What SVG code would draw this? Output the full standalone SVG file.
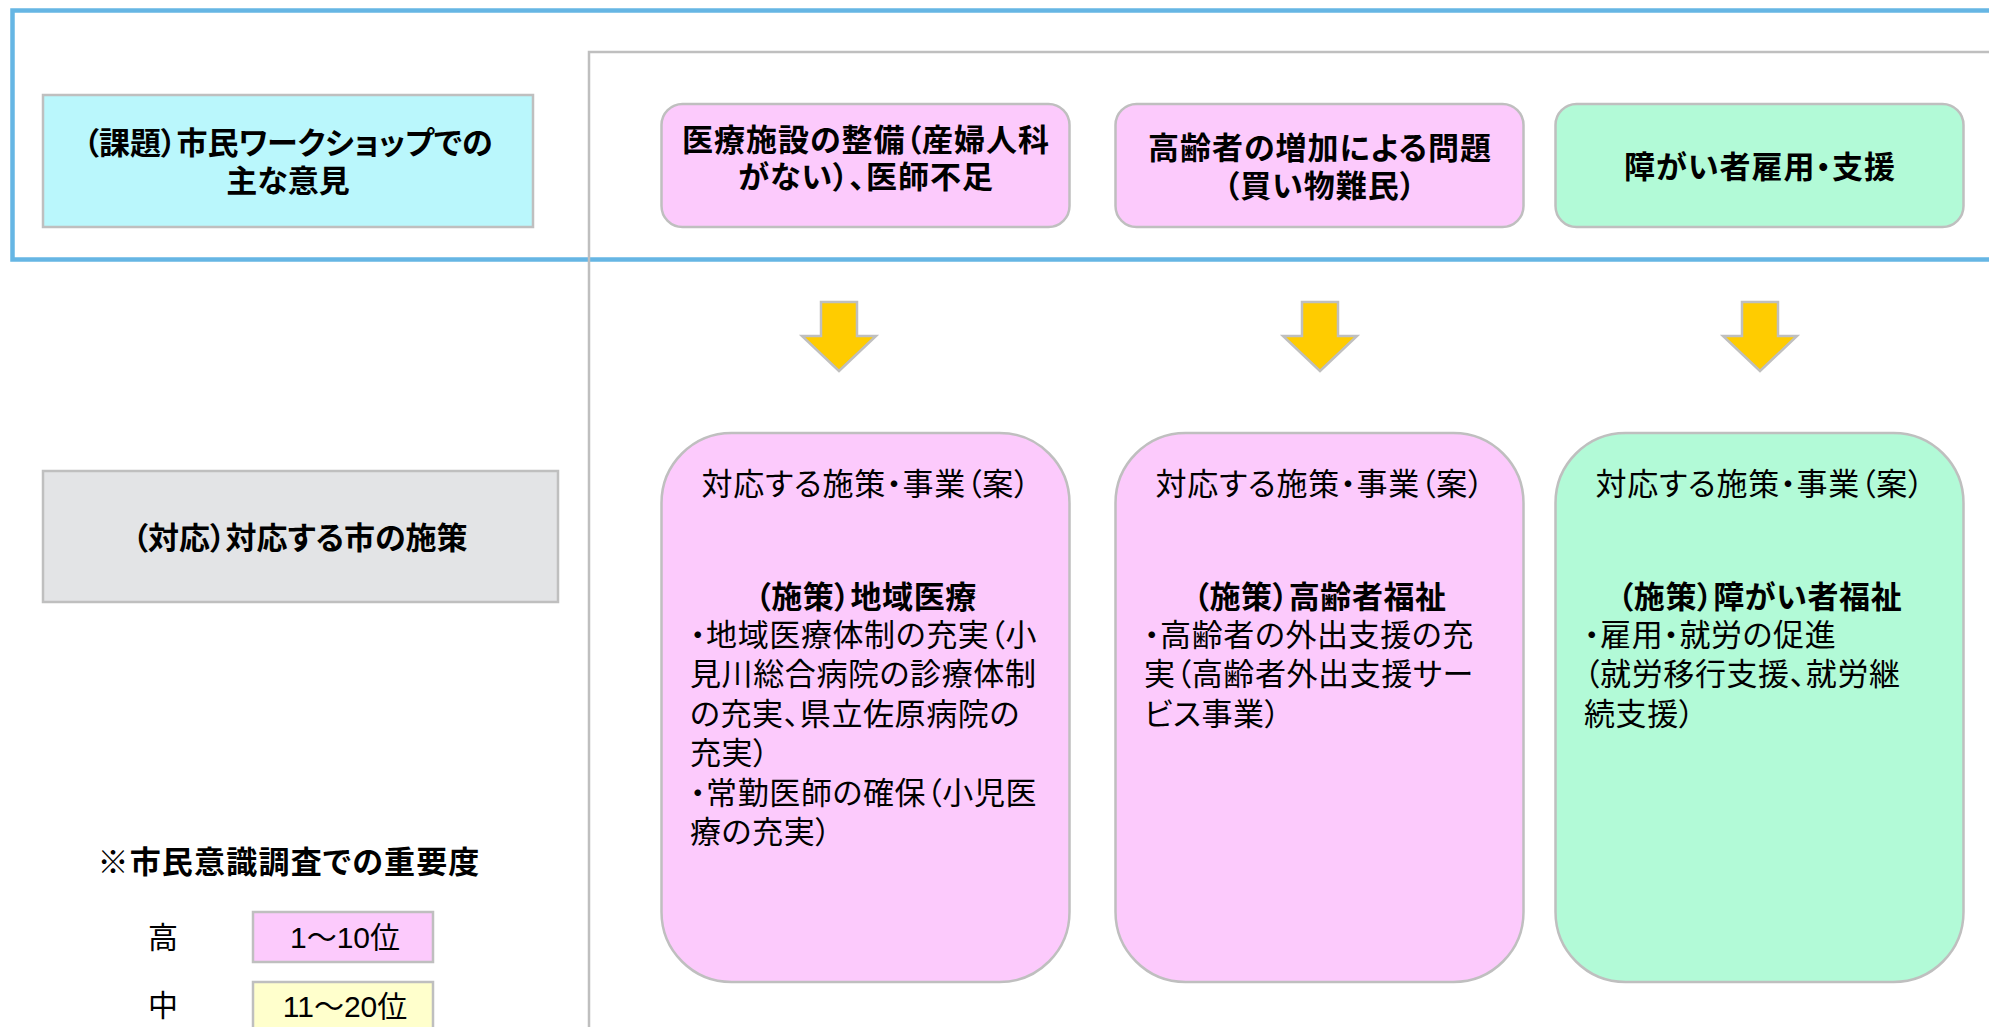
<svg xmlns="http://www.w3.org/2000/svg" width="1989" height="1027" viewBox="0 0 1989 1027">
<style>
text{font-family:"Liberation Sans","Noto Sans CJK JP",sans-serif;font-feature-settings:"palt" 1;fill:#000;dominant-baseline:central}
.b{font-weight:bold;font-size:31px}
.n{font-size:31px}
.body{font-size:31px;letter-spacing:0.6px}
.hd{letter-spacing:0.8px}
.tb{letter-spacing:1px}
.sb{letter-spacing:0.6px}
.c{text-anchor:middle}
.box{stroke:#BFBFBF;stroke-width:2.5}
.pink{fill:#FCCAFC}
.green{fill:#B2FAD7}
.arrow{fill:#FFCC00;stroke:#BFBFBF;stroke-width:2.5;stroke-linejoin:miter}
</style>
<rect x="0" y="0" width="1989" height="1027" fill="#FFFFFF"/>
<rect x="12.5" y="10.5" width="2000" height="249" fill="none" stroke="#66B6E4" stroke-width="4.5"/>
<g id="divider">
<path d="M589,1030 V52 H1995" fill="none" stroke="#BFBFBF" stroke-width="2.5"/>
</g>
<g id="issue-header">
<rect class="box" x="43" y="95" width="490" height="132" fill="#BAF7FC"/>
<text class="b c" x="288" y="143">（課題）市民ワークショップでの</text>
<text class="b c" x="288" y="181">主な意見</text>
</g>
<g id="response-header">
<rect class="box" x="43" y="471" width="515" height="131" fill="#E3E4E6"/>
<text class="b c" x="300" y="538">（対応）対応する市の施策</text>
</g>
<g id="issue-medical">
<rect class="box pink" x="661.5" y="104" width="408" height="123" rx="21" ry="21"/>
<text class="b c tb" x="866" y="140">医療施設の整備（産婦人科</text>
<text class="b c tb" x="866" y="177">がない）、医師不足</text>
</g>
<g id="issue-elderly">
<rect class="box pink" x="1115.5" y="104" width="408" height="123" rx="21" ry="21"/>
<text class="b c tb" x="1320" y="148">高齢者の増加による問題</text>
<text class="b c tb" x="1320" y="186">（買い物難民）</text>
</g>
<g id="issue-disability">
<rect class="box green" x="1555.5" y="104" width="408" height="123" rx="21" ry="21"/>
<text class="b c tb" x="1760" y="167">障がい者雇用・支援</text>
</g>
<g id="connectors">
<path class="arrow" d="M821,302 H857 V336 H876 L839,371 L802,336 H821 Z"/>
<path class="arrow" d="M1302,302 H1338 V336 H1357 L1320,371 L1283,336 H1302 Z"/>
<path class="arrow" d="M1742,302 H1778 V336 H1797 L1760,371 L1723,336 H1742 Z"/>
</g>
<g id="policy-medical">
<rect class="box pink" x="661.5" y="433" width="408" height="549" rx="70" ry="70"/>
<text class="n c hd" x="866" y="484">対応する施策・事業（案）</text>
<text class="b c sb" x="866" y="597">（施策）地域医療</text>
<text class="body" x="690" y="635">・地域医療体制の充実（小</text>
<text class="body" x="690" y="674.5">見川総合病院の診療体制</text>
<text class="body" x="690" y="714">の充実、県立佐原病院の</text>
<text class="body" x="690" y="753.5">充実）</text>
<text class="body" x="690" y="793">・常勤医師の確保（小児医</text>
<text class="body" x="690" y="832.5">療の充実）</text>
</g>
<g id="policy-elderly">
<rect class="box pink" x="1115.5" y="433" width="408" height="549" rx="70" ry="70"/>
<text class="n c hd" x="1320" y="484">対応する施策・事業（案）</text>
<text class="b c sb" x="1320" y="597">（施策）高齢者福祉</text>
<text class="body" x="1144" y="635">・高齢者の外出支援の充</text>
<text class="body" x="1144" y="674.5">実（高齢者外出支援サー</text>
<text class="body" x="1144" y="714">ビス事業）</text>
</g>
<g id="policy-disability">
<rect class="box green" x="1555.5" y="433" width="408" height="549" rx="70" ry="70"/>
<text class="n c hd" x="1760" y="484">対応する施策・事業（案）</text>
<text class="b c sb" x="1760" y="597">（施策）障がい者福祉</text>
<text class="body" x="1584" y="635">・雇用・就労の促進</text>
<text class="body" x="1584" y="674.5">（就労移行支援、就労継</text>
<text class="body" x="1584" y="714">続支援）</text>
</g>
<g id="legend">
<text class="b c" x="289" y="862" style="letter-spacing:1.2px">※市民意識調査での重要度</text>
<text class="n c" x="163" y="937" style="font-size:30px">高</text>
<rect class="box pink" x="253" y="912" width="180" height="50"/>
<text class="n c" x="345" y="937" style="font-size:30px">1～10位</text>
<text class="n c" x="163" y="1005" style="font-size:30px">中</text>
<rect class="box" x="253" y="982" width="180" height="60" fill="#FFFFCC"/>
<text class="n c" x="345" y="1006" style="font-size:30px">11～20位</text>
</g>
</svg>
